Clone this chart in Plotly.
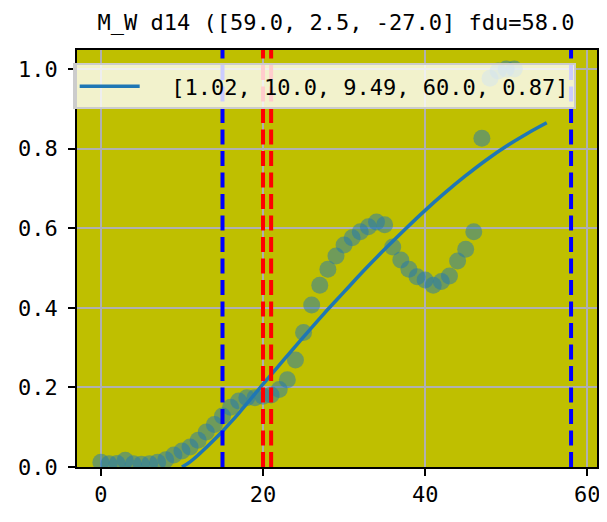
import plotly.graph_objects as go

# observed data (scatter)
obs_x = list(range(0, 52))
obs_y = [0.012, 0.008, 0.009, 0.017, 0.008, 0.007, 0.008, 0.012, 0.018, 0.03,
         0.04, 0.05, 0.067, 0.088, 0.107, 0.128, 0.15, 0.166, 0.174, 0.174,
         0.178, 0.181, 0.195, 0.219, 0.269, 0.338, 0.407, 0.457, 0.497, 0.53,
         0.558, 0.576, 0.591, 0.604, 0.616, 0.609, 0.553, 0.52, 0.497, 0.478,
         0.47, 0.457, 0.466, 0.48, 0.518, 0.547, 0.591, 0.826, 0.977, 0.995,
         1.0, 1.0]

# fitted curve
fit_x = [10, 11, 12, 13, 14, 15, 16, 17, 18, 19, 20, 22.5, 25, 27.5, 30, 32.5,
         35, 37.5, 40, 42.5, 45, 47.5, 50, 52.5, 55]
fit_y = [0.0, 0.013, 0.03, 0.049, 0.069, 0.09, 0.112, 0.135, 0.159, 0.184,
         0.208, 0.268, 0.327, 0.385, 0.44, 0.495, 0.547, 0.597, 0.645, 0.69,
         0.732, 0.771, 0.806, 0.837, 0.865]
fit_label = "[1.02, 10.0, 9.49, 60.0, 0.87]"

blue_lines = [15, 58]
red_lines = [20, 21]

title_text = "M_W d14 ([59.0, 2.5, -27.0] fdu=58.0"
x_ticks = [0, 20, 40, 60]
y_ticks = [0.0, 0.2, 0.4, 0.6, 0.8, 1.0]

FONT = "DejaVu Sans Mono"

fig = go.Figure()
fig.add_trace(go.Scatter(
    x=obs_x, y=obs_y, mode="markers", showlegend=False,
    marker=dict(size=17, color="#1f77b4", opacity=0.5, line=dict(width=0)),
))
fig.add_trace(go.Scatter(
    x=fit_x, y=fit_y, mode="lines", name="\u00a0\u00a0" + fit_label,
    line=dict(color="#1f77b4", width=3.5, shape="spline"),
))

for xv in blue_lines:
    fig.add_shape(type="line", xref="x", yref="paper", x0=xv, x1=xv, y0=0, y1=1,
                  line=dict(color="#0000ff", width=4, dash="15px,6.5px"), layer="above")
for xv in red_lines:
    fig.add_shape(type="line", xref="x", yref="paper", x0=xv, x1=xv, y0=0, y1=1,
                  line=dict(color="#ff0000", width=4, dash="15px,6.5px"), layer="above")

fig.update_layout(
    width=599, height=514,
    margin=dict(l=69, r=10, t=42, b=55, autoexpand=False),
    paper_bgcolor="white",
    plot_bgcolor="#bfbf00",
    font=dict(family=FONT, size=22, color="black"),
    title=dict(text=title_text, x=0.5476, xanchor="center", xref="container",
               y=1 - 14 / 514, yref="container", yanchor="middle",
               font=dict(family=FONT, size=22, color="black")),
    legend=dict(x=-0.0083, y=0.968, xanchor="left", yanchor="top",
                bgcolor="rgba(255,255,255,0.8)", bordercolor="#cccccc", borderwidth=2,
                font=dict(family=FONT, size=22, color="black"), itemwidth=60),
)
fig.update_xaxes(
    range=[-2.95, 61.2], tickvals=x_ticks, ticks="outside", ticklen=7, tickwidth=1.6,
    tickcolor="black", showline=True, linecolor="black", linewidth=1.8, mirror=True,
    showgrid=True, gridcolor="#b0b0b0", gridwidth=1.6, zeroline=False,
)
fig.update_yaxes(
    range=[0, 1.048], tickvals=y_ticks, tickformat=".1f", ticks="outside", ticklen=7,
    tickwidth=1.6, tickcolor="black", showline=True, linecolor="black", linewidth=1.8,
    mirror=True, showgrid=True, gridcolor="#b0b0b0", gridwidth=1.6, zeroline=False,
    ticklabelstandoff=6,
)

fig.write_html("out.html")
